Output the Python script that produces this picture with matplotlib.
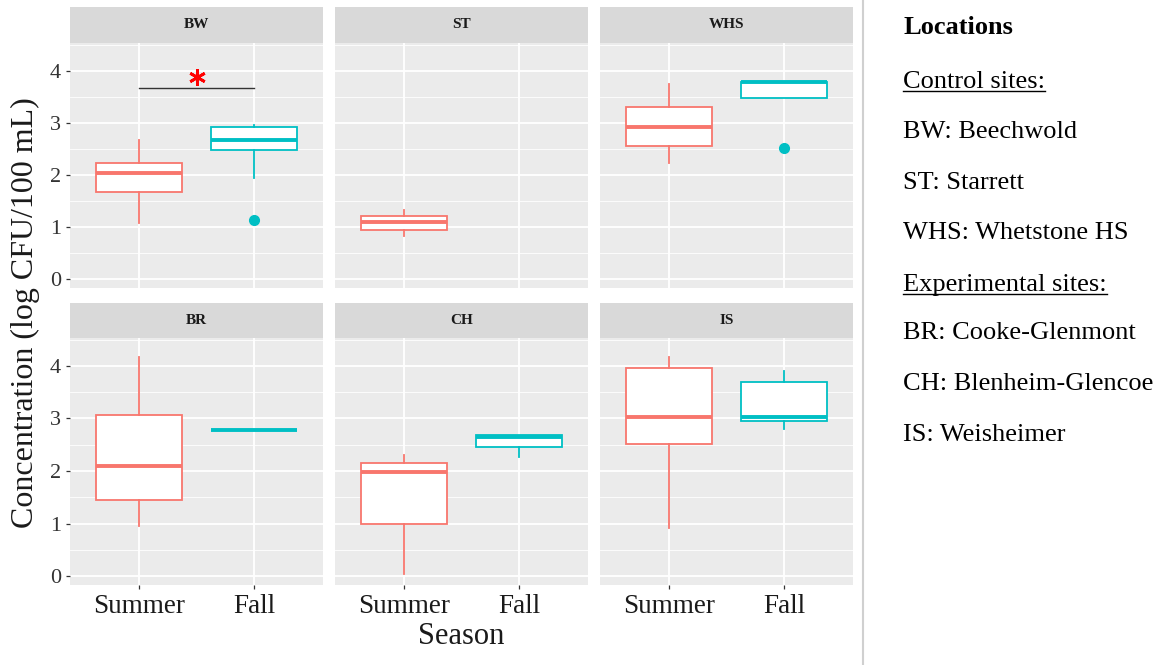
import matplotlib.pyplot as plt
from matplotlib.lines import Line2D

plt.rcParams['font.family'] = ['Liberation Serif', 'DejaVu Serif']

sites = ['BW', 'ST', 'WHS', 'BR', 'CH', 'IS']
seasons = ['Summer', 'Fall']
season_colors = ['#F8766D', '#00BFC4']

# box stats (log CFU/100 mL), None = no data
summer_lo = [1.08, 0.82, 2.23, 0.96, 0.04, 0.92]
summer_q1 = [1.68, 0.95, 2.55, 1.44, 1.00, 2.52]
summer_med = [2.04, 1.10, 2.91, 2.10, 1.98, 3.02]
summer_q3 = [2.23, 1.22, 3.31, 3.06, 2.15, 3.96]
summer_hi = [2.67, 1.33, 3.75, 4.17, 2.31, 4.17]
summer_out = [[], [], [], [], [], []]

fall_lo = [1.94, None, 3.47, 2.77, 2.27, 2.79]
fall_q1 = [2.48, None, 3.47, 2.77, 2.46, 2.96]
fall_med = [2.67, None, 3.79, 2.77, 2.65, 3.02]
fall_q3 = [2.91, None, 3.79, 2.77, 2.69, 3.69]
fall_hi = [2.95, None, 3.79, 2.77, 2.69, 3.90]
fall_out = [[1.14], [], [2.51], [], [], []]

legend_title = 'Locations'
legend_lines = [('Control sites:', True), ('BW: Beechwold', False), ('ST: Starrett', False),
                ('WHS: Whetstone HS', False), ('Experimental sites:', True),
                ('BR: Cooke-Glenmont', False), ('CH: Blenheim-Glencoe', False),
                ('IS: Weisheimer', False)]

W, H = 1163, 665
fig = plt.figure(figsize=(W / 100, H / 100), dpi=100)


def px_axes(x0, y0, x1, y1):
    return fig.add_axes([x0 / W, 1 - y1 / H, (x1 - x0) / W, (y1 - y0) / H])


col_x = [(70, 323), (335, 588), (600, 853)]
row_y = [(7, 43, 288), (303, 338, 585)]

for i, site in enumerate(sites):
    r, c = divmod(i, 3)
    x0, x1 = col_x[c]
    s0, p0, p1 = row_y[r]

    strip = px_axes(x0, s0, x1, p0)
    strip.set_facecolor('#D9D9D9')
    strip.set_xticks([])
    strip.set_yticks([])
    for sp in strip.spines.values():
        sp.set_visible(False)
    strip.text(0.5, 0.5, site, ha='center', va='center', fontsize=11,
               color='#1A1A1A', fontweight='bold', transform=strip.transAxes)

    ax = px_axes(x0, p0, x1, p1)
    ax.set_facecolor('#EBEBEB')
    for sp in ax.spines.values():
        sp.set_visible(False)
    ax.set_xlim(0.4, 2.6)
    ax.set_ylim(-0.17, 4.53)
    ax.set_yticks([0, 1, 2, 3, 4])
    ax.set_yticks([0.5, 1.5, 2.5, 3.5, 4.5], minor=True)
    ax.set_xticks([1, 2])
    ax.grid(which='major', color='white', lw=1.3)
    ax.grid(which='minor', axis='y', color='white', lw=0.6)
    ax.set_axisbelow(True)
    ax.tick_params(which='minor', length=0)
    ax.tick_params(which='major', length=3, color='#333333', width=0.9)

    stats = [dict(whislo=summer_lo[i], q1=summer_q1[i], med=summer_med[i],
                  q3=summer_q3[i], whishi=summer_hi[i], fliers=summer_out[i])]
    pos = [1]
    cols = [season_colors[0]]
    if fall_med[i] is not None:
        stats.append(dict(whislo=fall_lo[i], q1=fall_q1[i], med=fall_med[i],
                          q3=fall_q3[i], whishi=fall_hi[i], fliers=fall_out[i]))
        pos.append(2)
        cols.append(season_colors[1])
    bp = ax.bxp(stats, positions=pos, widths=0.75, patch_artist=True,
                showcaps=False, manage_ticks=False)
    for k, col in enumerate(cols):
        bp['boxes'][k].set(facecolor='white', edgecolor=col, lw=1.3)
        bp['medians'][k].set(color=col, lw=2.8)
        for w in bp['whiskers'][2 * k:2 * k + 2]:
            w.set(color=col, lw=1.3)
        bp['fliers'][k].set(marker='o', markerfacecolor=col, markeredgecolor=col,
                            markersize=7)

    if c == 0:
        ax.set_yticklabels(['0', '1', '2', '3', '4'], fontsize=16, color='#333333')
    else:
        ax.tick_params(axis='y', which='major', length=0, labelleft=False)
    if r == 1:
        ax.set_xticklabels(seasons, fontsize=19.5, color='#1A1A1A')
    else:
        ax.tick_params(axis='x', which='major', length=0, labelbottom=False)

    if site == 'BW':
        ax.plot([1, 2], [3.67, 3.67], color='#333333', lw=1)
        ax.plot(1.5, 3.87, marker=(6, 2, 0), ms=12, mew=2, color='#FF0000')

fig.text(25 / W, 1 - 313 / H, 'Concentration (log CFU/100 mL)', rotation=90,
         ha='center', va='center', fontsize=23, color='#1A1A1A')
fig.text(461 / W, 1 - 637 / H, 'Season', ha='center', va='center', fontsize=22,
         color='#1A1A1A')

fig.add_artist(Line2D([863 / W, 863 / W], [0, 1], color='#D0D0D0', lw=1.5))

fig.text(903 / W, 1 - 28 / H, legend_title, ha='left', va='center', fontsize=19,
         fontweight='bold', color='black')
ys = [82, 132, 183, 233, 285, 333, 384, 435]
txts = []
for (label, under), y in zip(legend_lines, ys):
    t = fig.text(903 / W, 1 - y / H, label, ha='left', va='center', fontsize=19,
                 color='black')
    txts.append((t, under))

fig.canvas.draw()
rend = fig.canvas.get_renderer()
for t, under in txts:
    if under:
        bb = t.get_window_extent(rend)
        yl = (bb.y0 + 2) / H
        fig.add_artist(Line2D([bb.x0 / W, bb.x1 / W], [yl, yl], color='black', lw=1))

fig.savefig('out.png', dpi=100)
